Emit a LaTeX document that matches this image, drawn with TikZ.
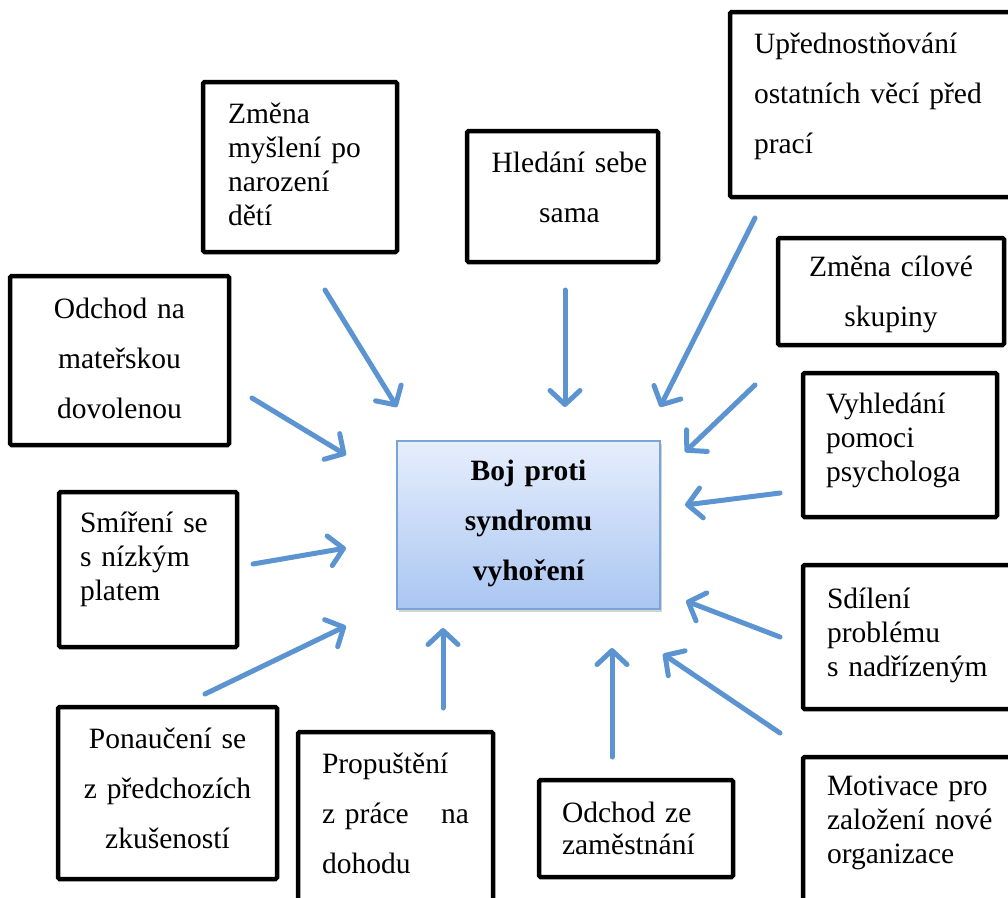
\documentclass[tikz,border=0pt]{standalone}
\usepackage{fontspec}
\setmainfont{Liberation Serif}
\usetikzlibrary{arrows.meta,shadows}
\definecolor{arrowblue}{HTML}{5B94D0}
\definecolor{coretop}{HTML}{E6EEFC}
\definecolor{corebot}{HTML}{AAC6F2}
\definecolor{corerim}{HTML}{7AA3D8}

\begin{document}
\begin{tikzpicture}[x=1pt,y=-1pt,
  box/.style={draw,line width=4.5pt,rounded corners=1.5pt,inner sep=0pt,text height=0pt,
    font=\fontsize{29.5}{34}\selectfont},
  spaced/.style={font=\fontsize{29.5}{50}\selectfont},
  core/.style={draw=corerim,line width=1.5pt,top color=coretop,bottom color=corebot,
    drop shadow={shadow xshift=2pt,shadow yshift=-3pt,opacity=0.35},
    inner sep=0pt,text height=0pt,align=center,font=\bfseries\fontsize{29.5}{50}\selectfont},
  arr/.style={draw=arrowblue,line width=5pt,line cap=round,
    -{Straight Barb[length=14pt,width=30pt,line join=round,line cap=round]}}]
\clip (0,0) rectangle (1008,897);

% centre
\node[core,minimum width=263pt,minimum height=168pt,text width=240pt,text depth=90pt] (boj) at (528.5,525) {Boj proti\\syndromu\\vyhoření};

% causes around it
\node[box,spaced,minimum width=219pt,minimum height=169pt,text width=200pt,align=center,text depth=85pt] (materska) at (119.5,360.5) {Odchod na\\mateřskou\\dovolenou};
\node[box,minimum width=194pt,minimum height=170pt,text width=144pt,align=left,text depth=88pt] (mysleni) at (300,167) {Změna\\myšlení po\\narození\\dětí};
\node[box,spaced,minimum width=191pt,minimum height=131pt,text width=171pt,align=center,text depth=49pt] (hledani) at (562.5,196.5) {\hspace*{14pt}Hledání sebe\\\hspace*{14pt}sama};
\node[box,spaced,minimum width=300pt,minimum height=185pt,text width=252pt,align=left,text depth=103pt] (prednost) at (880,104.5) {Upřednostňování\\ostatních věcí před\\prací};
\node[box,spaced,minimum width=226pt,minimum height=107pt,text width=206pt,align=center,text depth=31pt] (cilova) at (891,291.5) {Změna cílové\\skupiny};
\node[box,minimum width=194pt,minimum height=144pt,text width=148pt,align=left,text depth=64pt] (psycholog) at (900,445) {Vyhledání\\pomoci\\psychologa};
\node[box,minimum width=227pt,minimum height=144pt,text width=179pt,align=left,text depth=58pt] (sdileni) at (916.5,637) {Sdílení\\problému\\s nadřízeným};
\node[box,minimum width=227pt,minimum height=163pt,text width=179pt,align=left,text depth=87pt] (motivace) at (916.5,838.5) {Motivace pro\\založení nové\\organizace};
\node[box,font=\fontsize{29.5}{32}\selectfont,minimum width=194pt,minimum height=97pt,text width=148pt,align=left,text depth=13pt] (odchod) at (636,828.5) {Odchod ze\\zaměstnání};
\node[box,spaced,minimum width=195pt,minimum height=188pt,text width=147pt,align=left,text depth=106pt] (propusteni) at (395.5,826) {Propuštění\\z práce\hfill na\\dohodu};
\node[box,spaced,minimum width=219pt,minimum height=172pt,text width=200pt,align=center,text depth=90pt] (ponauceni) at (167.5,793) {Ponaučení se\\z předchozích\\zkušeností};
\node[box,minimum width=178pt,minimum height=155pt,text width=136pt,align=left,text depth=75pt] (smireni) at (148,569.5) {Smíření se\\s nízkým\\platem};

% arrow ends
\coordinate (mysleni-a) at (325,290);    \coordinate (mysleni-b) at (397,407);
\coordinate (hledani-a) at (565,290);    \coordinate (hledani-b) at (565,407);
\coordinate (prednost-a) at (755,218);   \coordinate (prednost-b) at (660,407);
\coordinate (cilova-a) at (755,385);     \coordinate (cilova-b) at (685,452);
\coordinate (psycholog-a) at (780,493);  \coordinate (psycholog-b) at (685,505);
\coordinate (sdileni-a) at (780,637);    \coordinate (sdileni-b) at (686,601);
\coordinate (motivace-a) at (780,733);   \coordinate (motivace-b) at (663,654);
\coordinate (odchod-a) at (612,757);     \coordinate (odchod-b) at (612,648);
\coordinate (propusteni-a) at (443,708); \coordinate (propusteni-b) at (443,628);
\coordinate (ponauceni-a) at (205,694);  \coordinate (ponauceni-b) at (346,626);
\coordinate (smireni-a) at (253,564);    \coordinate (smireni-b) at (346,548);
\coordinate (materska-a) at (252,398);   \coordinate (materska-b) at (346,455);

\draw[arr] (mysleni-a) -- (mysleni-b);
\draw[arr] (hledani-a) -- (hledani-b);
\draw[arr] (prednost-a) -- (prednost-b);
\draw[arr] (cilova-a) -- (cilova-b);
\draw[arr] (psycholog-a) -- (psycholog-b);
\draw[arr] (sdileni-a) -- (sdileni-b);
\draw[arr] (motivace-a) -- (motivace-b);
\draw[arr] (odchod-a) -- (odchod-b);
\draw[arr] (propusteni-a) -- (propusteni-b);
\draw[arr] (ponauceni-a) -- (ponauceni-b);
\draw[arr] (smireni-a) -- (smireni-b);
\draw[arr] (materska-a) -- (materska-b);
\end{tikzpicture}
\end{document}
